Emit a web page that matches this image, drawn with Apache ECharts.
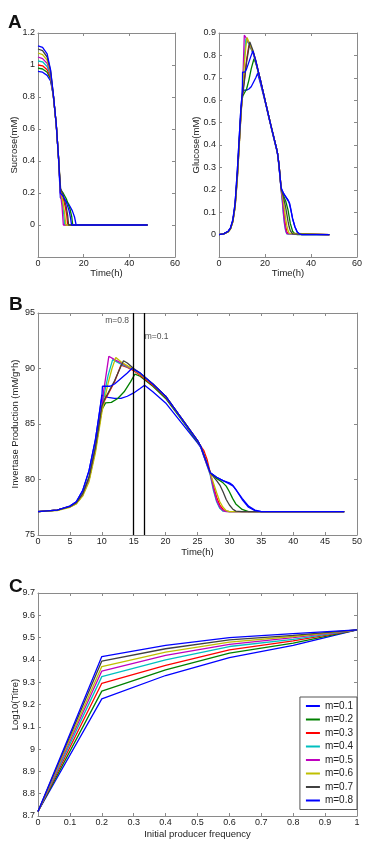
<!DOCTYPE html>
<html>
<head>
<meta charset="utf-8">
<script src="https://cdn.jsdelivr.net/npm/echarts@6/dist/echarts.min.js"></script>
<style>
  html, body { margin: 0; padding: 0; background: #fff; }
  #chart { width: 376px; height: 850px; }
</style>
</head>
<body>
<div id="chart"></div>
<script>
// legend names, one per m value
const mNames = ['m=0.1', 'm=0.2', 'm=0.3', 'm=0.4', 'm=0.5', 'm=0.6', 'm=0.7', 'm=0.8']
const lineColors = ['#0000ff', '#008000', '#ff0000', '#00bfbf', '#bf00bf', '#bfbf00', '#404040', '#0000ff']

// A: sucrose (mM) vs time (h), [t, value]
const sucrose = [
  [[0,0.96],[2,0.955],[4,0.935],[5.5,0.9],[6.7,0.81],[8,0.62],[9,0.41],[9.7,0.2],[9.8,0.17],[10.4,0.17],[12,0.155],[13.5,0.13],[15,0.09],[16,0.05],[16.7,0],[48,0]],
  [[0,0.98],[2,0.975],[4,0.955],[5.5,0.915],[6.7,0.81],[8,0.625],[9,0.42],[9.8,0.22],[11,0.2],[12.5,0.16],[14,0.1],[14.8,0.05],[15.2,0],[48,0]],
  [[0,1.0],[2,0.995],[4,0.97],[5.5,0.925],[6.7,0.81],[8,0.625],[9,0.42],[9.8,0.22],[11,0.17],[12,0.11],[12.6,0.06],[13,0],[48,0]],
  [[0,1.025],[2,1.02],[4,0.99],[5.5,0.935],[6.7,0.81],[8,0.625],[9,0.42],[9.8,0.21],[10.5,0.15],[11.2,0.08],[11.7,0],[48,0]],
  [[0,1.05],[2,1.04],[4,1.01],[5.5,0.945],[6.7,0.81],[8,0.625],[9,0.42],[9.8,0.2],[10.5,0.12],[11.1,0],[48,0]],
  [[0,1.075],[2,1.065],[4,1.03],[5.5,0.955],[6.7,0.815],[8,0.625],[9,0.42],[9.8,0.22],[10.8,0.15],[11.6,0.08],[12.2,0],[48,0]],
  [[0,1.1],[2,1.09],[4,1.05],[5.5,0.965],[6.7,0.815],[8,0.63],[9,0.42],[9.9,0.23],[11,0.19],[12.3,0.12],[13,0.06],[13.4,0],[48,0]],
  [[0,1.12],[2,1.11],[4,1.07],[5.5,0.97],[6.7,0.82],[8,0.63],[9,0.42],[9.8,0.2],[11,0.18],[12.5,0.14],[13.6,0.09],[14.3,0.04],[14.7,0],[48,0]]
]

// A: glucose (mM) vs time (h)
const glucose = [
  [[0,0],[2,0.003],[4,0.015],[5,0.03],[6,0.065],[7,0.14],[8,0.29],[9,0.47],[9.5,0.56],[10,0.62],[10.3,0.635],[11,0.645],[12,0.645],[13,0.65],[14,0.66],[15,0.68],[16,0.7],[16.8,0.72],[18,0.675],[20,0.595],[22.5,0.485],[25,0.38],[25.5,0.355],[26,0.31],[26.5,0.26],[27,0.205],[28,0.185],[29,0.17],[30,0.155],[30.7,0.14],[31.3,0.11],[32,0.07],[33,0.035],[34,0.012],[35,0.003],[36,0],[48,0]],
  [[0,0],[2,0.003],[4,0.013],[5,0.027],[6,0.06],[7,0.13],[8,0.27],[9,0.45],[9.5,0.54],[10,0.6],[10.4,0.62],[11,0.625],[12,0.65],[13,0.69],[14,0.74],[15.2,0.785],[16,0.765],[18,0.69],[20,0.6],[22.5,0.49],[25,0.385],[25.5,0.36],[26,0.315],[26.5,0.265],[27,0.205],[28,0.175],[29,0.15],[30,0.11],[30.5,0.08],[31,0.05],[32,0.015],[33,0.003],[34,0],[48,0]],
  [[0,0],[2,0.003],[4,0.013],[5,0.027],[6,0.058],[7,0.125],[8,0.26],[9,0.44],[9.5,0.53],[10,0.6],[10.5,0.65],[11,0.69],[12,0.78],[13,0.845],[14,0.83],[15,0.805],[16,0.77],[18,0.69],[20,0.6],[22.5,0.49],[25,0.385],[25.5,0.36],[26,0.32],[26.5,0.27],[27,0.205],[27.5,0.17],[28,0.12],[28.5,0.07],[29,0.035],[29.5,0.012],[30,0.003],[30.5,0],[48,0]],
  [[0,0],[2,0.003],[4,0.013],[5,0.027],[6,0.058],[7,0.125],[8,0.26],[9,0.44],[9.5,0.53],[10,0.61],[10.5,0.7],[11,0.79],[11.7,0.875],[13,0.85],[15,0.805],[16,0.77],[18,0.69],[20,0.6],[22.5,0.49],[25,0.385],[25.5,0.36],[26,0.315],[26.5,0.26],[27,0.2],[27.5,0.15],[28,0.09],[28.5,0.045],[29,0.015],[29.5,0.003],[30,0],[48,0]],
  [[0,0],[2,0.003],[4,0.013],[5,0.027],[6,0.058],[7,0.125],[8,0.26],[9,0.44],[9.5,0.53],[10,0.61],[10.3,0.67],[11,0.89],[12,0.875],[13,0.855],[15,0.81],[16,0.775],[18,0.69],[20,0.6],[22.5,0.49],[25,0.385],[25.5,0.36],[26,0.315],[26.5,0.26],[27,0.2],[27.5,0.16],[28,0.1],[28.5,0.05],[29,0.02],[29.5,0.005],[30,0],[48,0]],
  [[0,0],[2,0.003],[4,0.012],[5,0.025],[6,0.055],[7,0.12],[8,0.25],[9,0.43],[9.5,0.52],[10,0.6],[10.5,0.68],[11,0.76],[11.6,0.83],[12.2,0.88],[13,0.86],[15,0.81],[16,0.775],[18,0.69],[20,0.6],[22.5,0.49],[25,0.385],[25.5,0.36],[26,0.32],[26.5,0.27],[27,0.205],[27.5,0.18],[28,0.15],[28.5,0.11],[29,0.07],[29.5,0.04],[30,0.018],[30.5,0.006],[31,0],[48,0]],
  [[0,0],[2,0.003],[4,0.013],[5,0.027],[6,0.06],[7,0.13],[8,0.27],[9,0.45],[9.5,0.54],[10,0.61],[10.5,0.64],[11,0.68],[12,0.77],[13.4,0.86],[15,0.815],[16,0.775],[18,0.69],[20,0.6],[22.5,0.49],[25,0.385],[25.5,0.36],[26,0.32],[26.5,0.27],[27,0.205],[28,0.17],[29,0.12],[29.5,0.09],[30,0.06],[30.5,0.035],[31,0.018],[32,0.003],[32.5,0],[48,0]],
  [[0,0],[2,0.003],[4,0.015],[5,0.03],[6,0.065],[7,0.14],[8,0.29],[9,0.47],[9.5,0.56],[10,0.62],[10.15,0.64],[10.25,0.725],[11.2,0.725],[12,0.74],[13,0.77],[14,0.8],[14.7,0.82],[16,0.775],[18,0.69],[20,0.6],[22.5,0.49],[25,0.385],[25.5,0.36],[26,0.32],[26.5,0.265],[27,0.21],[28,0.185],[29,0.168],[30,0.152],[30.5,0.142],[31,0.12],[32,0.072],[33,0.035],[34,0.012],[35,0.003],[36,0],[48,0]]
]

// B: invertase production (mM/g*h) vs time (h)
const invertase = [
  [[0,77.1],[3,77.25],[5,77.6],[6,78.0],[7,79.0],[8,80.8],[9,83.6],[9.5,85.5],[10,87.6],[11,87.4],[12,87.3],[13,87.3],[14,87.5],[15,87.8],[16,88.2],[16.7,88.5],[18,87.9],[20,86.9],[22.5,85.1],[25,83.3],[25.5,82.9],[26,82.1],[27,80.6],[28,80.2],[29,79.9],[30,79.6],[30.6,79.4],[31,79.1],[32,78.3],[33,77.6],[34,77.25],[35,77.1],[48,77.1]],
  [[0,77.1],[3,77.25],[5,77.55],[6,77.85],[7,78.7],[8,80.2],[9,82.9],[9.5,84.7],[10,86.3],[10.6,86.9],[11.5,86.95],[12.5,87.3],[13.5,87.9],[14.5,88.8],[15.2,89.5],[16,89.3],[18,88.4],[20,87.3],[22.5,85.4],[25,83.4],[25.5,83.0],[26,82.2],[27,80.6],[28,80.1],[29,79.7],[29.5,79.4],[30,78.9],[30.5,78.3],[31,77.8],[32,77.3],[33,77.1],[48,77.1]],
  [[0,77.1],[3,77.25],[5,77.55],[6,77.85],[7,78.6],[8,80.0],[9,82.7],[9.5,84.5],[10,86.3],[10.5,87.2],[11,87.7],[12,88.8],[13,90.3],[14,90.1],[15,89.8],[16,89.4],[18,88.5],[20,87.4],[22.5,85.5],[25,83.5],[25.5,83.0],[26,82.6],[26.5,81.8],[27,80.6],[27.5,79.4],[28,78.4],[28.5,77.7],[29,77.3],[29.5,77.15],[30,77.1],[48,77.1]],
  [[0,77.1],[3,77.25],[5,77.55],[6,77.85],[7,78.6],[8,80.0],[9,82.7],[9.5,84.5],[10,86.4],[10.5,88.0],[11,89.4],[11.7,90.8],[13,90.4],[15,89.9],[16,89.5],[18,88.6],[20,87.5],[22.5,85.5],[25,83.5],[25.5,83.0],[26,82.1],[27,80.4],[27.5,79.0],[28,78.0],[28.5,77.4],[29,77.15],[30,77.1],[48,77.1]],
  [[0,77.1],[3,77.25],[5,77.55],[6,77.85],[7,78.6],[8,80.0],[9,82.7],[9.5,84.5],[10,86.5],[10.3,88.0],[11.1,91.1],[12,90.8],[13,90.5],[15,89.9],[16,89.5],[18,88.6],[20,87.5],[22.5,85.5],[25,83.5],[25.5,83.0],[26,82.1],[27,80.5],[27.5,79.2],[28,78.1],[28.5,77.5],[29,77.2],[29.5,77.1],[48,77.1]],
  [[0,77.1],[3,77.2],[5,77.5],[6,77.8],[7,78.5],[8,79.8],[9,82.4],[9.5,84.2],[10,86.0],[10.5,87.4],[11,88.7],[11.6,90.0],[12.2,91.0],[13,90.6],[15,89.9],[16,89.5],[18,88.6],[20,87.5],[22.5,85.5],[25,83.5],[25.5,83.0],[26,82.3],[27,80.6],[27.5,79.7],[28,78.8],[28.5,78.0],[29,77.5],[29.5,77.2],[30,77.1],[48,77.1]],
  [[0,77.1],[3,77.25],[5,77.55],[6,77.9],[7,78.7],[8,80.2],[9,82.9],[9.5,84.7],[10,86.6],[10.5,87.3],[11,87.8],[12,88.9],[13,90.2],[13.4,90.7],[14,90.5],[15,90.0],[16,89.6],[18,88.6],[20,87.5],[22.5,85.5],[25,83.5],[25.5,83.0],[26,82.2],[27,80.6],[28,79.9],[28.5,79.5],[29,78.9],[29.5,78.2],[30,77.7],[30.5,77.35],[31,77.15],[32,77.1],[48,77.1]],
  [[0,77.1],[3,77.25],[5,77.6],[6,78.0],[7,79.0],[8,80.8],[9,83.6],[9.5,85.5],[10,87.4],[10.1,88.4],[11.3,88.4],[12,88.6],[13,89.1],[14,89.6],[14.7,90.0],[16,89.6],[18,88.6],[20,87.5],[22.5,85.5],[25,83.5],[25.5,83.0],[26,82.2],[27,80.6],[28,80.2],[29,79.9],[30,79.7],[30.5,79.5],[31,79.1],[32,78.2],[33,77.5],[34,77.2],[35,77.1],[48,77.1]]
]
// sucrose depletion times marked in B
const depletionMarks = [
  { name: 'm=0.8', t: 15 },
  { name: 'm=0.1', t: 16.7 }
]
const markLabels = [[12.4, 94.3, 'm=0.8'], [18.6, 92.9, 'm=0.1']]

// C: log10(titre) vs initial producer frequency
const freq = [0, 0.2, 0.4, 0.6, 0.8, 1]
const titre = [
  [8.72, 9.225, 9.33, 9.41, 9.465, 9.535],
  [8.72, 9.26, 9.355, 9.43, 9.475, 9.535],
  [8.72, 9.295, 9.375, 9.445, 9.485, 9.535],
  [8.72, 9.325, 9.4, 9.46, 9.492, 9.535],
  [8.72, 9.35, 9.42, 9.47, 9.5, 9.535],
  [8.72, 9.37, 9.435, 9.48, 9.505, 9.535],
  [8.72, 9.395, 9.45, 9.49, 9.51, 9.535],
  [8.72, 9.415, 9.465, 9.5, 9.518, 9.535]
]

const FONT = 'Liberation Sans, Arial, sans-serif'
const axisGray = '#8a8a8a'
const labelColor = '#222'

const grids = [
  { left: 38, top: 33, width: 137, height: 224 },
  { left: 219, top: 33, width: 138, height: 224 },
  { left: 38, top: 313, width: 319, height: 222 },
  { left: 38, top: 593, width: 319, height: 223 }
].map(g => Object.assign(g, { containLabel: false, outerBoundsMode: 'none' }))

const xSpec = [
  { min: 0, max: 60, interval: 20, name: 'Time(h)', nameGap: 11 },
  { min: 0, max: 60, interval: 20, name: 'Time(h)', nameGap: 11 },
  { min: 0, max: 50, interval: 5, name: 'Time(h)', nameGap: 12 },
  { min: 0, max: 1, interval: 0.1, name: 'Initial producer frequency', nameGap: 13 }
]
const ySpec = [
  { min: -0.2, max: 1.2, interval: 0.2, name: 'Sucrose(mM)', nameGap: 19, hide: -0.2 },
  { min: -0.1, max: 0.9, interval: 0.1, name: 'Glucose(mM)', nameGap: 18, hide: -0.1 },
  { min: 75, max: 95, interval: 5, name: 'Invertase Production (mM/g*h)', nameGap: 18 },
  { min: 8.7, max: 9.7, interval: 0.1, name: 'Log10(Titre)', nameGap: 18 }
]

function baseAxis(i, spec) {
  return {
    type: 'value',
    gridIndex: i,
    min: spec.min,
    max: spec.max,
    interval: spec.interval,
    splitLine: { show: false },
    axisLine: { show: true, onZero: false, lineStyle: { color: axisGray, width: 1 } },
    axisTick: { show: true, inside: true, length: 3, lineStyle: { color: axisGray } }
  }
}

const xAxes = []
const yAxes = []
xSpec.forEach((s, i) => {
  xAxes.push(Object.assign(baseAxis(i, s), {
    position: 'bottom',
    name: s.name,
    nameLocation: 'middle',
    nameGap: s.nameGap,
    nameMoveOverlap: false,
    nameTextStyle: { fontFamily: FONT, fontSize: 9.5, color: labelColor },
    axisLabel: { fontFamily: FONT, fontSize: 9, color: labelColor, margin: 2 }
  }))
  xAxes.push(Object.assign(baseAxis(i, s), { position: 'top', axisLabel: { show: false } }))
})
ySpec.forEach((s, i) => {
  yAxes.push(Object.assign(baseAxis(i, s), {
    position: 'left',
    name: s.name,
    nameLocation: 'middle',
    nameGap: s.nameGap,
    nameMoveOverlap: false,
    nameTextStyle: { fontFamily: FONT, fontSize: 9.5, color: labelColor },
    axisLabel: {
      fontFamily: FONT, fontSize: 9, color: labelColor, margin: 3,
      formatter: v => (s.hide !== undefined && Math.abs(v - s.hide) < 1e-9) ? '' : String(+v.toFixed(2))
    }
  }))
  yAxes.push(Object.assign(baseAxis(i, s), { position: 'right', axisLabel: { show: false } }))
})

function lineSeries(name, color, data, gi) {
  return {
    name: name,
    type: 'line',
    xAxisIndex: gi * 2,
    yAxisIndex: gi * 2,
    data: data,
    showSymbol: false,
    symbol: 'none',
    smooth: false,
    silent: true,
    animation: false,
    lineStyle: { color: color, width: 1.3 },
    itemStyle: { color: color }
  }
}

const series = []
mNames.forEach((n, k) => series.push(lineSeries(n, lineColors[k], sucrose[k], 0)))
mNames.forEach((n, k) => series.push(lineSeries(n, lineColors[k], glucose[k], 1)))
mNames.forEach((n, k) => series.push(lineSeries(n, lineColors[k], invertase[k], 2)))
mNames.forEach((n, k) => series.push(lineSeries(n, lineColors[k], freq.map((f, j) => [f, titre[k][j]]), 3)))

// vertical depletion lines in B
series.push({
  type: 'line',
  xAxisIndex: 4,
  yAxisIndex: 4,
  data: [],
  silent: true,
  animation: false,
  markLine: {
    symbol: 'none',
    silent: true,
    animation: false,
    label: { show: false },
    lineStyle: { color: '#000', width: 1.3, type: 'solid' },
    data: depletionMarks.map(d => ({ xAxis: d.t }))
  }
})
series.push({
  type: 'scatter',
  xAxisIndex: 4,
  yAxisIndex: 4,
  symbolSize: 0,
  silent: true,
  animation: false,
  data: markLabels,
  label: {
    show: true,
    position: 'inside',
    formatter: p => p.data[2],
    fontFamily: FONT,
    fontSize: 8.5,
    color: '#222'
  }
})

const chart = echarts.init(document.getElementById('chart'), null, { renderer: 'canvas' })
chart.setOption({
  backgroundColor: '#fff',
  animation: false,
  textStyle: { fontFamily: FONT },
  title: [
    { text: 'A', left: 3, top: 8 },
    { text: 'B', left: 4, top: 290 },
    { text: 'C', left: 4, top: 572 }
  ].map(t => Object.assign(t, { textStyle: { fontFamily: FONT, fontSize: 19, fontWeight: 'bold', color: '#111' } })),
  grid: grids,
  xAxis: xAxes,
  yAxis: yAxes,
  legend: {
    data: mNames.map(n => ({ name: n, icon: 'rect' })),
    orient: 'vertical',
    right: 19,
    top: 697,
    padding: [3, 4, 3, 6],
    itemGap: 1.5,
    itemWidth: 14,
    itemHeight: 2,
    backgroundColor: '#fff',
    borderColor: '#555',
    borderWidth: 1,
    borderRadius: 0,
    selectedMode: false,
    textStyle: { fontFamily: FONT, fontSize: 10, color: labelColor, lineHeight: 12 }
  },
  series: series
})
</script>
</body>
</html>
